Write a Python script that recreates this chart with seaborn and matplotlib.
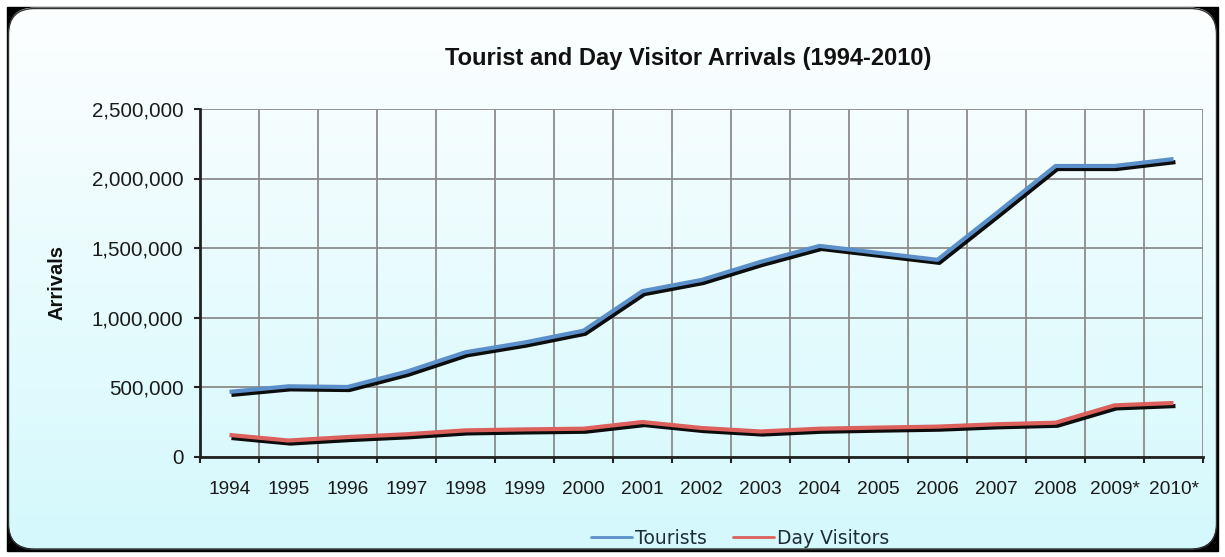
import numpy as np
import pandas as pd
import matplotlib
matplotlib.use("Agg")
import matplotlib.pyplot as plt
import seaborn as sns
import matplotlib.patheffects as pe
from matplotlib.patches import FancyBboxPatch, Rectangle
from matplotlib.lines import Line2D
from matplotlib.ticker import FuncFormatter

# ---- data ----
years = ['1994', '1995', '1996', '1997', '1998', '1999', '2000', '2001', '2002',
         '2003', '2004', '2005', '2006', '2007', '2008', '2009*', '2010*']
tourists = [465000, 505000, 500000, 610000, 750000, 820000, 905000, 1190000, 1270000,
            1400000, 1515000, 1465000, 1415000, 1750000, 2090000, 2090000, 2140000]
day_visitors = [155000, 115000, 140000, 160000, 188000, 195000, 200000, 248000, 205000,
                180000, 200000, 208000, 215000, 232000, 243000, 368000, 385000]
series_names = ['Tourists', 'Day Visitors']
colors = {'Tourists': '#5b8fca', 'Day Visitors': '#dc605c'}
title = 'Tourist and Day Visitor Arrivals (1994-2010)'
ylabel = 'Arrivals'

sns.set_theme(style='white')
plt.rcParams['font.family'] = ['Liberation Sans', 'DejaVu Sans']

W, H = 1225, 557
fig = plt.figure(figsize=(W / 100, H / 100), dpi=100)

# ---- background panel ----
bg = fig.add_axes([0, 0, 1, 1], zorder=0)
bg.set_xlim(0, W)
bg.set_ylim(H, 0)
bg.axis('off')
bg.add_patch(Rectangle((7, 7), 1211, 544, facecolor='black', edgecolor='black', lw=1))
panel = FancyBboxPatch((8.5, 8.5), 1208, 541, boxstyle='round,pad=0,rounding_size=26',
                       facecolor='none', edgecolor='#333333', lw=1, zorder=3)
grad = np.linspace(0, 1, 256)[:, None, None]
top_c = np.array([0.992, 0.998, 1.0])
bot_c = np.array([0.83, 0.975, 0.99])
img = top_c + (bot_c - top_c) * grad
im = bg.imshow(img, extent=[7, 1218, 551, 7], aspect='auto', zorder=2)
im.set_clip_path(panel)
bg.add_patch(panel)

# ---- main axes ----
left, right, top, bottom = 200, 1203, 109, 456.5
ax = fig.add_axes([left / W, 1 - bottom / H, (right - left) / W, (bottom - top) / H], zorder=2)
ax.patch.set_alpha(0)

n = len(years)
df = pd.DataFrame({
    'idx': list(range(n)) * 2,
    'value': tourists + day_visitors,
    'series': [series_names[0]] * n + [series_names[1]] * n,
})
sns.lineplot(data=df, x='idx', y='value', hue='series', palette=colors,
             linewidth=3, ax=ax, legend=False, sort=False)
for ln in ax.lines:
    ln.set_path_effects([pe.SimpleLineShadow(offset=(1.4, -2.2), shadow_color='black', alpha=0.95),
                         pe.Normal()])
    ln.set_solid_capstyle('butt')
    ln.set_zorder(3)

ax.set_xlim(-0.5, n - 0.5)
ax.set_ylim(0, 2500000)
ax.set_xlabel('')
ax.set_ylabel('')

ax.set_xticks(range(n))
ax.set_xticklabels(years)
ax.set_xticks(np.arange(-0.5, n, 1), minor=True)
ax.tick_params(axis='x', which='major', length=0, pad=18, labelsize=13.8, labelcolor='#1a1a1a')
ax.tick_params(axis='x', which='minor', bottom=True, length=4, width=1.5, color='#222222', direction='out')

ax.set_yticks(np.arange(0, 2500001, 500000))
ax.yaxis.set_major_formatter(FuncFormatter(lambda v, p: f'{v:,.0f}'))
ax.tick_params(axis='y', which='major', left=True, length=4, width=1.5, color='#222222',
               direction='out', pad=8, labelsize=14.8, labelcolor='#1a1a1a')

ax.set_axisbelow(True)
ax.grid(False)
ax.grid(True, which='minor', axis='x', color='#8c8c8c', lw=1.3)
ax.grid(True, which='major', axis='y', color='#8c8c8c', lw=1.3)

for s in ['top', 'right']:
    ax.spines[s].set_visible(False)
for s in ['left', 'bottom']:
    ax.spines[s].set_color('#222222')
    ax.spines[s].set_linewidth(2)
    ax.spines[s].set_zorder(4)

# ---- texts ----
fig.text(688 / W, 1 - 58 / H, title, ha='center', va='center', fontsize=17,
         fontweight='bold', color='#111111')
fig.text(57 / W, 1 - 283 / H, ylabel, rotation=90, ha='center', va='center',
         fontsize=14.5, fontweight='bold', color='#111111')

handles = [Line2D([0], [0], color=colors[s], lw=2) for s in series_names]
leg = fig.legend(handles, series_names, loc='center', bbox_to_anchor=(740 / W, 1 - 538 / H),
                 ncol=2, frameon=False, prop={'family': 'DejaVu Sans', 'size': 13.5},
                 handlelength=2.2, handletextpad=0.15, columnspacing=1.4)
for t in leg.get_texts():
    t.set_color('#1e2d36')

fig.savefig('out.png', dpi=100)
